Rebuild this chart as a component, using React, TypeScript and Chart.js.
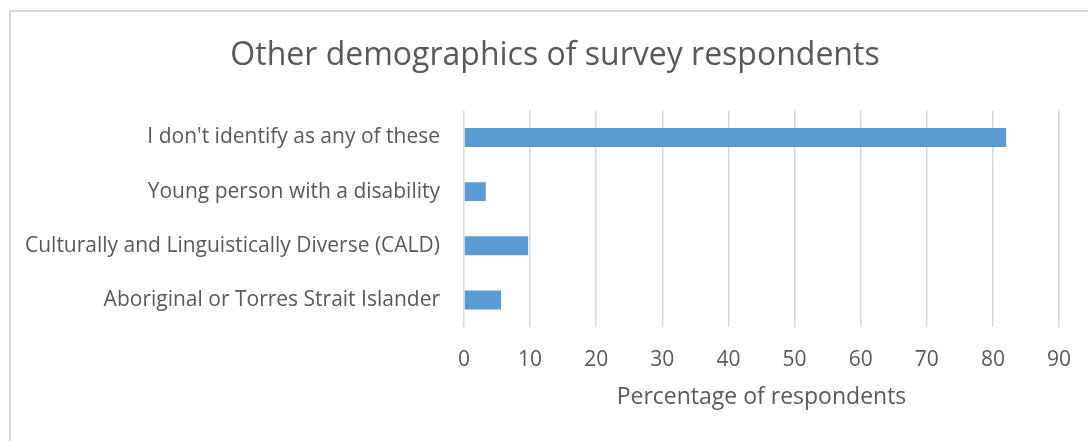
import React, { useEffect, useRef } from "react";
import { Chart, registerables } from "chart.js";

Chart.register(...registerables);

const categories = [
  "I don't identify as any of these",
  "Young person with a disability",
  "Culturally and Linguistically Diverse (CALD)",
  "Aboriginal or Torres Strait Islander",
];
const percentages = [82, 3.3, 9.7, 5.6];
const titleText = "Other demographics of survey respondents";
const xAxisTitle = "Percentage of respondents";
const xMin = 0;
const xMax = 90;
const xStep = 10;

const TEXT = "#595959";
const FONT = "'Open Sans', sans-serif";
const PAD_LEFT = 51;

// let the category labels use the space left of the layout padding
const unclipYLabels = {
  id: "unclipYLabels",
  afterLayout(chart: any) {
    if (chart.scales.y) chart.scales.y.left = 0;
  },
};

export default function App() {
  const ref = useRef<HTMLCanvasElement>(null);

  useEffect(() => {
    if (!ref.current) return;
    const chart = new Chart(ref.current, {
      type: "bar",
      data: {
        labels: categories,
        datasets: [
          {
            data: percentages,
            backgroundColor: "#5B9BD5",
            borderWidth: 0,
            categoryPercentage: 1,
            barPercentage: 0.35,
          },
        ],
      },
      plugins: [unclipYLabels],
      options: {
        indexAxis: "y",
        animation: false,
        responsive: false,
        devicePixelRatio: 1,
        layout: { padding: { left: PAD_LEFT, right: 29, top: 0, bottom: 0 } },
        plugins: {
          legend: { display: false },
          tooltip: { enabled: false },
          title: {
            display: true,
            text: titleText,
            color: TEXT,
            font: { family: FONT, size: 32, weight: "normal" },
            padding: { top: 37, bottom: 35 },
          },
        },
        scales: {
          x: {
            min: xMin,
            max: xMax,
            ticks: {
              stepSize: xStep,
              color: TEXT,
              font: { family: FONT, size: 21 },
              padding: 20,
            },
            grid: { color: "#D9D9D9", lineWidth: 1.5, drawTicks: false },
            border: { display: false },
            title: {
              display: true,
              text: xAxisTitle,
              color: TEXT,
              font: { family: FONT, size: 23 },
              padding: { top: 4, bottom: 30 },
            },
            afterFit: (scale: any) => {
              scale.height = 114;
              scale.paddingRight = 0;
              scale.paddingLeft = 0;
            },
          },
          y: {
            grid: { display: false, drawTicks: false },
            border: { display: false },
            ticks: {
              color: TEXT,
              font: { family: FONT, size: 21 },
              padding: 24,
            },
            afterFit: (scale: any) => {
              scale.width = 464 - PAD_LEFT;
            },
          },
        },
      },
    });
    return () => chart.destroy();
  }, []);

  return (
    <div
      style={{
        position: "fixed",
        left: 0,
        top: 0,
        width: 1088,
        height: 441,
        overflow: "hidden",
        background: "#fff",
      }}
    >
      <div
        style={{
          position: "absolute",
          left: 9,
          top: 10,
          width: 1200,
          height: 600,
          border: "2px solid #D9D9D9",
        }}
      />
      <canvas
        ref={ref}
        width={1088}
        height={441}
        style={{ position: "absolute", left: 0, top: 0, width: 1088, height: 441 }}
      />
    </div>
  );
}
